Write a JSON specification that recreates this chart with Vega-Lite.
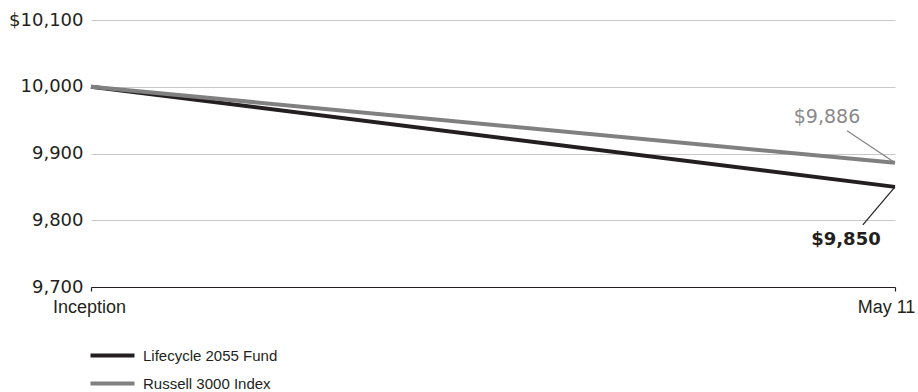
{
  "$schema": "https://vega.github.io/schema/vega-lite/v6.json",
  "width": 804,
  "height": 267,
  "autosize": {"type": "none"},
  "padding": {"left": 91, "top": 20, "right": 23, "bottom": 105},
  "background": "white",
  "config": {"view": {"stroke": null}},
  "datasets": {
    "series": [
      {"series": "Lifecycle 2055 Fund", "x": 0, "value": 10000},
      {"series": "Lifecycle 2055 Fund", "x": 1, "value": 9850},
      {"series": "Russell 3000 Index", "x": 0, "value": 10000},
      {"series": "Russell 3000 Index", "x": 1, "value": 9886}
    ],
    "notes": [
      {"series": "Lifecycle 2055 Fund", "text": "$9,850", "tx": 0.939, "ty": 9770, "lx": 0.96, "ly": 9793, "ex": 1, "ey": 9850},
      {"series": "Russell 3000 Index", "text": "$9,886", "tx": 0.9154, "ty": 9955, "lx": 0.9403, "ly": 9934, "ex": 1, "ey": 9886}
    ]
  },
  "layer": [
    {
      "data": {"name": "series"},
      "mark": {"type": "line", "strokeWidth": 4},
      "encoding": {
        "x": {
          "field": "x", "type": "quantitative",
          "scale": {"domain": [0, 1]},
          "axis": {
            "title": null,
            "values": [0, 1],
            "grid": false,
            "domainColor": "#231f20",
            "domainWidth": 1.2,
            "tickColor": "#231f20",
            "tickWidth": 1.2,
            "tickSize": 4,
            "labelExpr": "datum.value == 0 ? 'Inception' : 'May 11'",
            "labelFont": "Liberation Sans",
            "labelFontSize": 18,
            "labelColor": "#231f20",
            "labelPadding": 7,
            "labelAlign": "center",
            "labelFlush": false,
            "labelOffset": {"condition": {"test": "datum.value == 1", "value": -9}, "value": -2},
            "encode": {
              "ticks": {"update": {"y": {"value": -3}, "y2": {"value": 4}}}
            }
          }
        },
        "y": {
          "field": "value", "type": "quantitative",
          "scale": {"domain": [9700, 10100]},
          "axis": {
            "title": null,
            "values": [9700, 9800, 9900, 10000, 10100],
            "grid": true,
            "gridColor": "#c8c8c8",
            "gridWidth": 1,
            "domain": false,
            "ticks": false,
            "labelPadding": 8,
            "labelFont": "DejaVu Sans",
            "labelFontSize": 18,
            "labelColor": "#231f20",
            "labelExpr": "datum.value == 10100 ? '$10,100' : format(datum.value, ',')"
          }
        },
        "color": {
          "field": "series", "type": "nominal",
          "scale": {"domain": ["Lifecycle 2055 Fund", "Russell 3000 Index"], "range": ["#231f20", "#808080"]},
          "legend": {
            "title": null,
            "orient": "none",
            "legendX": 12,
            "legendY": 326,
            "padding": 0,
            "symbolType": "M-3,0H3",
            "symbolSize": 215,
            "symbolStrokeWidth": 4,
            "symbolFillColor": "transparent",
            "rowPadding": 10,
            "labelOffset": 21,
            "labelFont": "Liberation Sans",
            "labelFontSize": 15,
            "labelColor": "#231f20"
          }
        }
      }
    },
    {
      "data": {"name": "notes"},
      "mark": {"type": "rule", "strokeWidth": 1.2},
      "encoding": {
        "x": {"field": "lx", "type": "quantitative"},
        "y": {"field": "ly", "type": "quantitative"},
        "x2": {"field": "ex"},
        "y2": {"field": "ey"},
        "color": {"field": "series", "type": "nominal"}
      }
    },
    {
      "data": {"name": "notes"},
      "transform": [{"filter": "datum.series == 'Russell 3000 Index'"}],
      "mark": {"type": "text", "font": "DejaVu Sans", "fontSize": 19, "baseline": "middle", "align": "center", "color": "#8a8a8a"},
      "encoding": {
        "x": {"field": "tx", "type": "quantitative"},
        "y": {"field": "ty", "type": "quantitative"},
        "text": {"field": "text"}
      }
    },
    {
      "data": {"name": "notes"},
      "transform": [{"filter": "datum.series == 'Lifecycle 2055 Fund'"}],
      "mark": {"type": "text", "font": "DejaVu Sans", "fontSize": 18, "fontWeight": "bold", "baseline": "middle", "align": "center", "color": "#231f20"},
      "encoding": {
        "x": {"field": "tx", "type": "quantitative"},
        "y": {"field": "ty", "type": "quantitative"},
        "text": {"field": "text"}
      }
    }
  ]
}
